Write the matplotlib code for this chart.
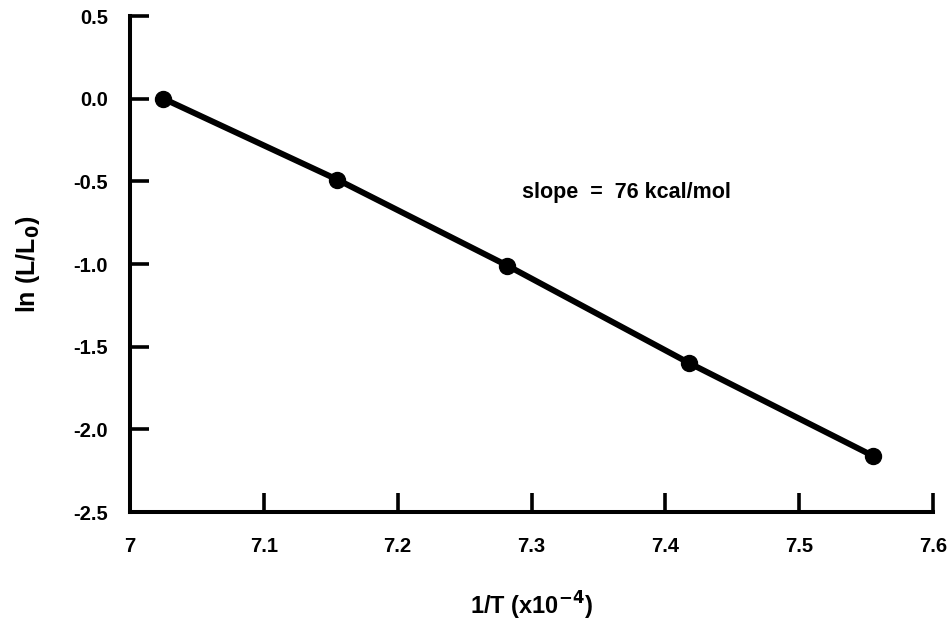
import numpy as np
import matplotlib
matplotlib.use("Agg")
import matplotlib.pyplot as plt

plt.rcParams["font.family"] = ["Liberation Sans", "DejaVu Sans"]
plt.rcParams["font.weight"] = "bold"

## data
inv_t = [7.025, 7.155, 7.282, 7.418, 7.555]
ln_ratio = [0.0, -0.49, -1.01, -1.60, -2.16]
x_ticks = [7.0, 7.1, 7.2, 7.3, 7.4, 7.5, 7.6]
x_labels = ["7", "7.1", "7.2", "7.3", "7.4", "7.5", "7.6"]
y_ticks = [0.5, 0.0, -0.5, -1.0, -1.5, -2.0, -2.5]
y_labels = ["0.5", "0.0", "-0.5", "-1.0", "-1.5", "-2.0", "-2.5"]

fig = plt.figure(figsize=(9.51, 6.3), dpi=100)
ax = fig.add_axes([0.1367, 0.1873, 0.8444, 0.7873])

ax.plot(inv_t, ln_ratio, color="k", lw=4.3, marker="o", ms=11.5, solid_capstyle="round")

ax.set_xlim(7.0, 7.6)
ax.set_ylim(-2.5, 0.5)
ax.set_xticks(x_ticks)
ax.set_xticklabels(x_labels)
ax.set_yticks(y_ticks)
ax.set_yticklabels(y_labels)

for s in ["top", "right"]:
    ax.spines[s].set_visible(False)
for s in ["left", "bottom"]:
    ax.spines[s].set_linewidth(2.9)

ax.tick_params(axis="both", direction="in", length=14, width=2.6, labelsize=14.5)
ax.tick_params(axis="x", pad=18)
ax.tick_params(axis="y", pad=16)

ax.set_xlabel(r"1/T (x10$^{\mathbf{-4}}$)", fontsize=17, fontweight="bold", labelpad=24)
ax.set_ylabel(r"ln (L/L$_{\mathbf{0}}$)", fontsize=18, fontweight="bold", labelpad=22)

ax.text(7.371, -0.565, "slope  =  76 kcal/mol", fontsize=15.5, fontweight="bold",
        ha="center", va="center")

fig.savefig("out.png", dpi=100)
